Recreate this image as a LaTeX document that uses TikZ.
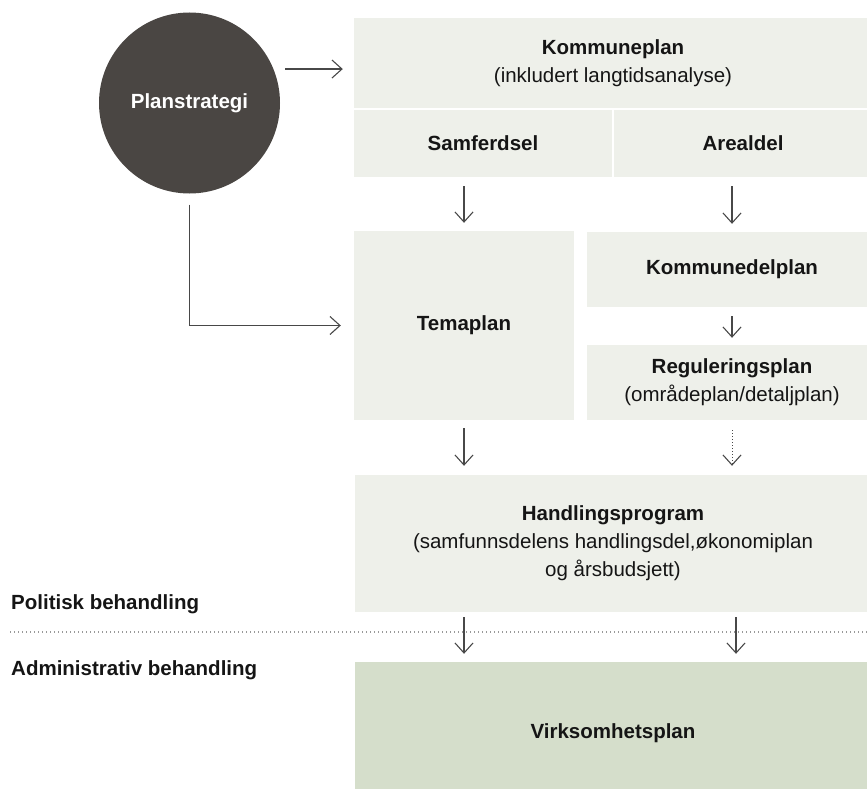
\documentclass[tikz,border=0pt]{standalone}
\usepackage{fontspec}
\setmainfont{Liberation Sans}
\usetikzlibrary{arrows.meta}

\definecolor{boxgray}{HTML}{EEF0EA}
\definecolor{boxgreen}{HTML}{D5DECB}
\definecolor{circledark}{HTML}{4A4643}
\definecolor{arrowgray}{HTML}{484848}
\definecolor{textdark}{HTML}{151515}

\begin{document}
\begin{tikzpicture}[x=1pt, y=-1pt,
    planbox/.style={fill=boxgray, align=center, inner sep=0pt, text=textdark,
      font=\fontsize{20.5}{28}\selectfont},
    pil/.style={draw=arrowgray, line width=1.4pt,
      -{Straight Barb[length=10pt, width=18pt, line width=1.1pt]}},
    sidelabel/.style={anchor=west, inner sep=0pt, text=textdark,
      font=\fontsize{20.5}{24}\selectfont\bfseries}]

    \useasboundingbox (0,0) rectangle (867,789);


    \node[circle, fill=circledark, minimum size=181pt, inner sep=0pt, text=white,
      font=\fontsize{20.5}{24}\selectfont\bfseries] (strat) at (189.5,103) {Planstrategi};


    \node[planbox, minimum width=518pt, minimum height=90pt] (komm) at (613,63)
      {\textbf{Kommuneplan}\\(inkludert langtidsanalyse)};

    \node[planbox, minimum width=258pt, minimum height=67pt] (samf) at (483,143.5)
      {\textbf{Samferdsel}};

    \node[planbox, minimum width=258pt, minimum height=67pt] (areal) at (743,143.5)
      {\textbf{Arealdel}};


    \node[planbox, minimum width=220pt, minimum height=189pt] (tema) at (464,325.5)
      {\textbf{Temaplan}};

    \node[planbox, minimum width=290pt, minimum height=75pt] (kdp) at (732,269.5)
      {\textbf{Kommunedelplan}};

    \node[planbox, minimum width=290pt, minimum height=75pt] (reg) at (732,382.5)
      {\textbf{Reguleringsplan}\\(områdeplan/detaljplan)};


    \node[planbox, minimum width=516pt, minimum height=137pt] (handl) at (613,543.5)
      {\textbf{Handlingsprogram}\\(samfunnsdelens handlingsdel,økonomiplan\\og årsbudsjett)};

    \node[planbox, fill=boxgreen, minimum width=516pt, minimum height=142pt] (virk) at (613,733)
      {\textbf{Virksomhetsplan}};


    \node[sidelabel] (pol) at (11,604) {Politisk behandling};

    \node[sidelabel] (adm) at (11,670) {Administrativ behandling};

    \coordinate (skille1) at (10,632);

    \coordinate (skille2) at (867,632);

    \draw[draw=gray!80, line width=1.3pt, dash pattern=on 1.3pt off 2.7pt] (skille1) -- (skille2);


    \draw[pil, shorten <=11.5pt, shorten >=11pt] (strat.22) -- (strat.22 -| komm.west);

    \draw[pil, shorten <=11pt, shorten >=13pt] (strat.south) |- (tema.west);


    \draw[pil, shorten <=9pt, shorten >=8pt] (samf.south -| tema.north) -- (tema.north);

    \draw[pil, shorten <=9pt, shorten >=8pt] (areal.south -| kdp.north) -- (kdp.north);

    \draw[pil, shorten <=9pt, shorten >=7pt] (kdp.south) -- (reg.north);


    \draw[pil, shorten <=8pt, shorten >=9pt] (tema.south) -- (tema.south |- handl.north);

    \draw[pil, line width=0.8pt, dash pattern=on 1pt off 2pt, shorten <=10pt, shorten >=9pt]
      (reg.south) -- (reg.south |- handl.north);


    \draw[pil, shorten <=5pt, shorten >=8pt] (handl.south -| tema.south) -- (virk.north -| tema.south);

    \draw[pil, shorten <=5pt, shorten >=8pt] ([xshift=4pt]handl.south -| reg.south) -- ([xshift=4pt]virk.north -| reg.south);

  \end{tikzpicture}
\end{document}
